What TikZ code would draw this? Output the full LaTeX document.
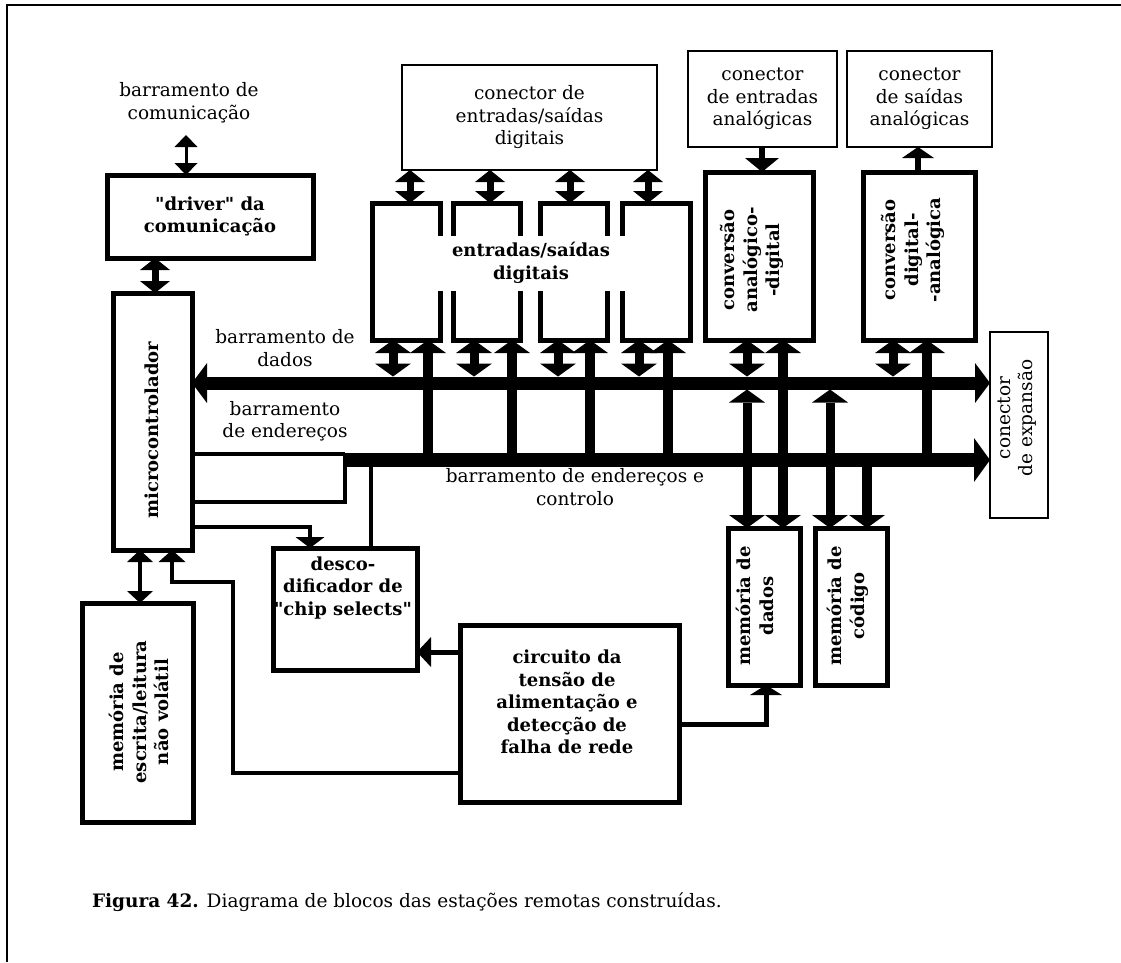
\documentclass[tikz,border=0pt]{standalone}
\usepackage{fontspec}
\setmainfont{DejaVu Serif}
\newfontfamily\quotefont{DejaVu Serif}[Ligatures=TeXOff]
\usetikzlibrary{arrows.meta}
\newcommand\diagfont{\fontsize{18.5}{22.5}\selectfont}
\newcommand\boldfont{\fontsize{18}{22.5}\selectfont\bfseries}
\newcommand\dq{{\quotefont"}}
\begin{document}
\begin{tikzpicture}[x=1pt,y=-1pt,
  every node/.style={inner sep=0pt, outer sep=0pt},
  lbl/.style={align=center, font=\diagfont},
  blbl/.style={align=center, font=\boldfont},
  hbox/.style={draw, line width=5pt},
  lbox/.style={draw, line width=2.5pt},
  wire/.style={line width=4pt},
  bus/.style={line width=13pt},
  abus/.style={line width=14pt},
  tipBus/.tip={Triangle[length=15pt,width=40pt,line width=0pt]},
  tipW/.tip={Triangle[length=13pt,width=36pt,line width=0pt]},
  tipM/.tip={Triangle[length=12pt,width=30pt,line width=0pt]},
  tipS/.tip={Triangle[length=12pt,width=26pt,line width=0pt]},
  biW/.style={line width=9pt, tipW-tipW},
  upW/.style={line width=10pt, -tipW},
  biM/.style={line width=7pt, tipM-tipM},
  biS/.style={line width=3.5pt, tipS-tipS},
]
\useasboundingbox (0,0) rectangle (1121,962);

% page frame
\draw[line width=2.5pt] (7,962) -- (7,5) -- (1121,5);

% reference levels of the two buses
\coordinate (dbtop) at (0,376.5);
\coordinate (dbbot) at (0,389.5);
\coordinate (dbmid) at (0,383);
\coordinate (abmid) at (0,460);

% ---------- blocks ----------
\node[lbl] (commlbl) at (189,103) {barramento de\\comunicação};
\node[hbox, blbl, minimum width=206pt, minimum height=83pt] (driver) at (210,216.5) {\dq driver\dq\ da\\comunicação};

\node[lbox, lbl, minimum width=255pt, minimum height=105pt] (dcon) at (529.5,117.5) {conector de\\entradas/saídas\\digitais};
\foreach \i/\cx/\w in {1/406/68, 2/486.5/67, 3/573.5/67, 4/656/68}
  \node[hbox, minimum width=\w pt, minimum height=137pt] (io\i) at (\cx,271.5) {};
\node[blbl, fill=white, minimum width=190pt, minimum height=55pt] (iotxt) at (531,263) {entradas/saídas\\digitais};

\node[lbox, lbl, minimum width=149pt, minimum height=96pt] (ain) at (762.5,99) {conector\\de entradas\\analógicas};
\node[lbox, lbl, minimum width=145pt, minimum height=96pt] (aout) at (919.5,99) {conector\\de saídas\\analógicas};

\node[hbox, minimum width=108pt, minimum height=168pt] (adc) at (759,256) {};
\node[blbl, rotate=90] (adctxt) at (752,260) {conversão\\analógico-\\-digital};
\node[hbox, minimum width=112pt, minimum height=168pt] (dac) at (919,256) {};
\node[blbl, rotate=90] (dactxt) at (913,250) {conversão\\digital-\\-analógica};

\node[hbox, minimum width=79pt, minimum height=257pt] (micro) at (152.5,421.5) {};
\node[blbl, rotate=90] (microtxt) at (152,430) {microcontrolador};

\node[hbox, minimum width=111pt, minimum height=219pt] (nvm) at (137.5,712.5) {};
\node[blbl, rotate=90] (nvmtxt) at (139,712) {memória de\\escrita/leitura\\não volátil};

\node[blbl] (dectxt) at (343,588) {desco-\\dificador de\\\dq chip selects\dq};
\node[hbox, minimum width=144pt, minimum height=122pt] (dec) at (345,609) {};

\node[hbox, minimum width=219pt, minimum height=177pt] (psu) at (569.5,713.5) {};
\node[blbl] (psutxt) at (567,702) {circuito da\\tensão de\\alimentação e\\detecção de\\falha de rede};

\node[hbox, minimum width=72pt, minimum height=157pt] (mdat) at (764,606.5) {};
\node[blbl, rotate=90] (mdattxt) at (755,606) {memória de\\dados};
\node[hbox, minimum width=72pt, minimum height=157pt] (mcod) at (851,606.5) {};
\node[blbl, rotate=90] (mcodtxt) at (848,606) {memória de\\código};

\node[lbox, minimum width=58pt, minimum height=186pt] (exp) at (1019,425) {};
\node[lbl, rotate=90] (exptxt) at (1017,418) {conector\\de expansão};

% bus names
\node[lbl] (dblbl) at (285,348) {barramento de\\dados};
\node[lbl] (ablbl) at (285,421) {barramento\\de endereços};
\node[lbl] (actlbl) at (575,487) {barramento de endereços e\\controlo};

% ---------- buses ----------
\draw[bus, tipBus-tipBus] (micro.east |- dbmid) -- (exp.west |- dbmid);
\coordinate (abstart) at (345,460);
\draw[abus, -{Triangle[length=16pt,width=44pt,line width=0pt]}] (abstart) -- (exp.west |- abstart);
\coordinate (abtop) at (345,454);
\coordinate (abctl) at (345,502);
\draw[wire] (micro.east |- abtop) -- (abtop);
\draw[wire] (micro.east |- abctl) -- (abctl) -- (abtop);

% address bus into the decoder, chip-select line from the microcontroller
\draw[wire] (abmid -| 371,0) -- (dec.north -| 371,0);
\coordinate (csel) at (310,527);
\draw[wire, -{Triangle[length=11pt,width=29pt,line width=0pt]}] (micro.east |- csel) -| (dec.north -| csel);

% ---------- connectors ----------
\coordinate (commtop) at (186,135);
\draw[line width=3pt, {Triangle[length=12pt,width=23pt,line width=0pt]}-{Triangle[length=12pt,width=23pt,line width=0pt]}] (commtop) -- (driver.north -| commtop);
\draw[biM] (driver.south -| 155,0) -- (micro.north -| 155,0);
\draw[biS] (micro.south -| 140,0) -- (nvm.north -| 140,0);

\draw[wire, -{Triangle[length=12pt,width=27pt,line width=0pt]}] (psu.west |- 0,773) -| (233,582) -| (micro.south -| 172,0);
\draw[line width=5pt, -{Triangle[length=14pt,width=30pt,line width=0pt]}] (psu.west |- 0,652) -- (dec.east |- 0,652);
\draw[line width=5pt, -{Triangle[length=10pt,width=32pt,line width=0pt]}] (psu.east |- 0,724) -| (mdat.south -| 766,0);

\foreach \x/\i in {410/1, 490/2, 570/3, 648/4}
  \draw[biM] (dcon.south -| \x,0) -- (io\i.north -| \x,0);
\foreach \x/\i in {393/1, 474/2, 558/3, 639/4}
  \draw[biW] (io\i.south -| \x,0) -- (dbtop -| \x,0);
\foreach \x/\i in {428/1, 512/2, 590/3, 668/4}
  \draw[upW] (abmid -| \x,0) -- (io\i.south -| \x,0);

\draw[line width=6pt, -{Triangle[length=14pt,width=34pt,line width=0pt]}] (ain.south -| 762,0) -- (adc.north -| 762,0);
\draw[line width=6pt, -{Triangle[length=11pt,width=32pt,line width=0pt]}] (dac.north -| 918,0) -- (aout.south -| 918,0);

\draw[biW] (adc.south -| 747,0) -- (dbtop -| 747,0);
\draw[upW] (abmid -| 783,0) -- (adc.south -| 783,0);
\draw[biW] (dac.south -| 893,0) -- (dbtop -| 893,0);
\draw[upW] (abmid -| 927,0) -- (dac.south -| 927,0);

\draw[biW] (dbbot -| 747,0) -- (mdat.north -| 747,0);
\draw[upW] (abmid -| 783,0) -- (mdat.north -| 783,0);
\draw[biW] (dbbot -| 830,0) -- (mcod.north -| 830,0);
\draw[upW] (abmid -| 867,0) -- (mcod.north -| 867,0);

% caption
\node[anchor=west, font=\fontsize{18.5}{22}\selectfont] (caption) at (92,902) {\textbf{Figura 42.} Diagrama de blocos das estações remotas construídas.};
\end{tikzpicture}
\end{document}
